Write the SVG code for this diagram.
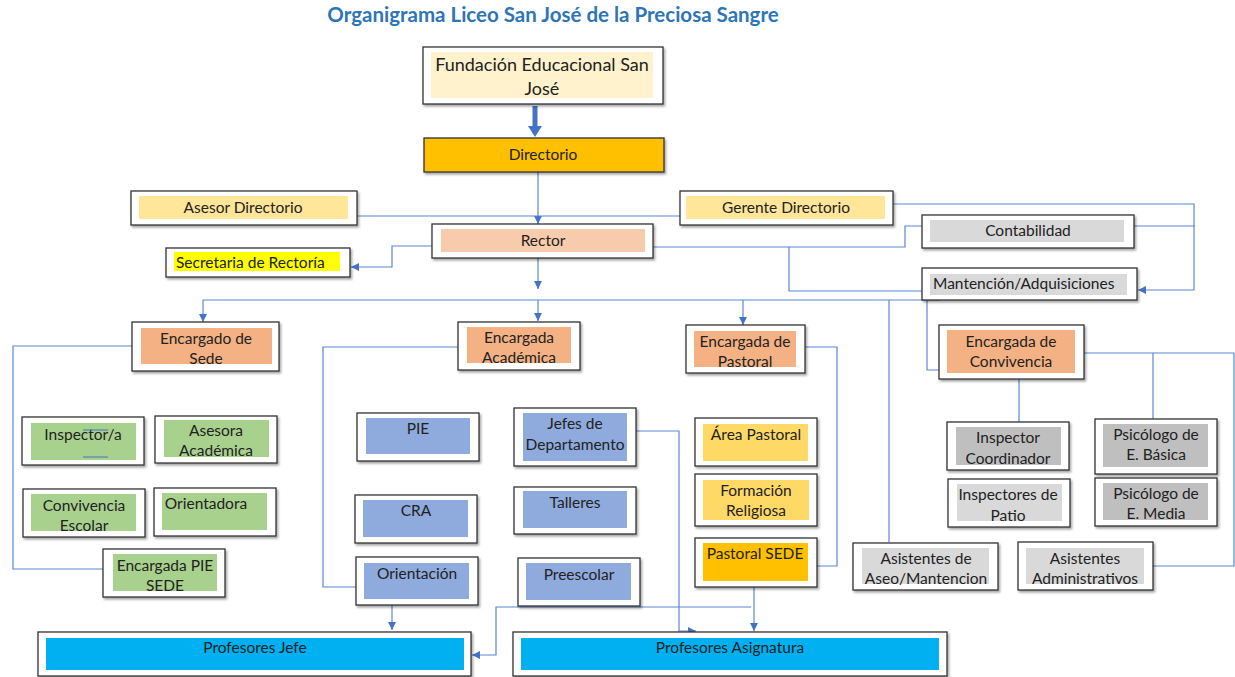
<svg xmlns="http://www.w3.org/2000/svg" width="1235" height="677" viewBox="0 0 1235 677">
<defs>
<filter id="sh" x="-10%" y="-10%" width="130%" height="140%"><feDropShadow dx="1.5" dy="2" stdDeviation="1.2" flood-color="#000" flood-opacity="0.35"/></filter>
<marker id="ah" viewBox="0 0 10 10" refX="10" refY="5" markerWidth="8" markerHeight="8" markerUnits="userSpaceOnUse" orient="auto"><path d="M0,0 L10,5 L0,10 z" fill="#4472C4"/></marker>
<style>
.ob{fill:#fff;stroke:#333;stroke-width:1.3;filter:url(#sh)}
.t{font-family:Lato,"Liberation Sans",sans-serif;font-size:15.5px;fill:#222;text-anchor:middle}
.c{fill:none;stroke:#5B86D6;stroke-width:1.2}
.ca{fill:none;stroke:#5B86D6;stroke-width:1.2;marker-end:url(#ah)}
.green{fill:#A9D18E}.blue{fill:#8FAADC}.org{fill:#F4B183}.gray{fill:#D9D9D9}.dgray{fill:#BFBFBF}.ylw{fill:#FFD966}.cyan{fill:#00B0F0}
</style>
</defs>
<rect width="1235" height="677" fill="#fff"/>
<text x="553" y="22" font-family="Lato,'Liberation Sans',sans-serif" font-size="20.5" font-weight="bold" fill="#2E75B6" text-anchor="middle">Organigrama Liceo San José de la Preciosa Sangre</text>

<g id="connectors">
<path d="M535,106 V127" stroke="#4472C4" stroke-width="5" fill="none"/>
<path d="M528,126 L542,126 L535,137 z" fill="#4472C4"/>
<path class="ca" d="M538,172 V224"/>
<path class="c" d="M357,216 H681"/>
<path class="ca" d="M432,246 H392 V267 H351"/>
<path class="ca" d="M538,258 V289"/>
<path class="c" d="M203,300 H940"/>
<path class="ca" d="M203,300 V322"/>
<path class="ca" d="M538,300 V321"/>
<path class="ca" d="M743,300 V325"/>
<path class="c" d="M653,247 H905 V226 H922"/>
<path class="c" d="M789,247 V291 H922"/>
<path class="ca" d="M893,204 H1194 V290 H1138"/>
<path class="c" d="M1134,226 H1195"/>
<path class="c" d="M889,300 V542"/>
<path class="c" d="M927,300 V370 H939"/>
<path class="c" d="M1019,379 V422"/>
<path class="c" d="M1084,353 H1234 V566 H1153"/>
<path class="c" d="M1153,353 V419"/>
<path class="c" d="M132,346 H13 V569 H103"/>
<path class="c" d="M458,347 H323 V587 H356"/>
<path class="c" d="M805,347 H837 V566 H817"/>
<path class="ca" d="M636,431 H679 V631 H696"/>
<path class="ca" d="M754,587 V631"/>
<path class="ca" d="M751,607 H496 V655 H472"/>
<path class="ca" d="M392,605 V630"/>
</g>

<g id="fundacion"><rect class="ob" x="423" y="47" width="240" height="57"/><rect x="431" y="52" width="222" height="46" fill="#FFF2CC"/><text class="t" style="font-size:18px" x="542" y="71">Fundación Educacional San</text><text class="t" style="font-size:18px" x="542" y="95">José</text></g>

<g id="directorio"><rect x="424" y="138" width="240" height="34" fill="#FFC000" stroke="#333" stroke-width="1.3" filter="url(#sh)"/><text class="t" x="543" y="160">Directorio</text></g>

<g id="asesor"><rect class="ob" x="131" y="191" width="226" height="34"/><rect x="139" y="196" width="209" height="23" fill="#FFE699"/><text class="t" x="243" y="213">Asesor Directorio</text></g>

<g id="gerente"><rect class="ob" x="680" y="191" width="213" height="34"/><rect x="686" y="196" width="199" height="23" fill="#FFE699"/><text class="t" x="786" y="213">Gerente Directorio</text></g>

<g id="rector"><rect class="ob" x="432" y="224" width="221" height="34"/><rect x="441" y="229" width="204" height="23" fill="#F8CBAD"/><text class="t" x="543" y="246">Rector</text></g>

<g id="secretaria"><rect class="ob" x="166" y="248" width="184" height="29"/><rect x="174" y="252" width="166" height="19" fill="#FFFF00"/><text class="t" x="176" y="268" style="text-anchor:start">Secretaria de Rectoría</text></g>

<g id="contabilidad"><rect class="ob" x="922" y="215" width="212" height="33"/><rect x="930" y="220" width="194" height="22" fill="#D9D9D9"/><text class="t" x="1028" y="236">Contabilidad</text></g>

<g id="mantencion"><rect class="ob" x="922" y="268" width="215" height="32"/><rect x="930" y="274" width="197" height="21" class="gray"/><text class="t" x="933" y="289" style="text-anchor:start">Mantención/Adquisiciones</text></g>

<g id="enc-sede"><rect class="ob" x="132" y="322" width="147" height="49"/><rect x="141" y="328" width="131" height="36" class="org"/><text class="t" x="206" y="344">Encargado de</text><text class="t" x="206" y="364">Sede</text></g>

<g id="inspector-a"><rect class="ob" x="22" y="417" width="122" height="48"/><rect x="31" y="423" width="105" height="37" class="green"/><text class="t" x="83" y="440">Inspector/a</text><path d="M83,430 H108 M83,457 H108" stroke="#4472C4" stroke-width="1"/></g>

<g id="asesora"><rect class="ob" x="155" y="416" width="122" height="47"/><rect x="164" y="420" width="105" height="37" class="green"/><text class="t" x="216" y="436">Asesora</text><text class="t" x="216" y="456">Académica</text></g>

<g id="convivencia-escolar"><rect class="ob" x="23" y="489" width="122" height="48"/><rect x="31" y="494" width="105" height="37" class="green"/><text class="t" x="84" y="511">Convivencia</text><text class="t" x="84" y="531">Escolar</text></g>

<g id="orientadora"><rect class="ob" x="154" y="488" width="122" height="48"/><rect x="162" y="493" width="105" height="37" class="green"/><text class="t" x="206" y="509">Orientadora</text></g>

<g id="pie-sede"><rect class="ob" x="103" y="549" width="122" height="48"/><rect x="113" y="554" width="104" height="37" class="green"/><text class="t" x="165" y="571">Encargada PIE</text><text class="t" x="165" y="591">SEDE</text></g>

<g id="enc-academica"><rect class="ob" x="458" y="322" width="122" height="48"/><rect x="467" y="327" width="104" height="36" class="org"/><text class="t" x="519" y="343">Encargada</text><text class="t" x="519" y="363">Académica</text></g>

<g id="pie"><rect class="ob" x="357" y="413" width="122" height="48"/><rect x="366" y="418" width="104" height="36" class="blue"/><text class="t" x="418" y="434">PIE</text></g>

<g id="cra"><rect class="ob" x="355" y="495" width="122" height="48"/><rect x="363" y="500" width="105" height="37" class="blue"/><text class="t" x="416" y="516">CRA</text></g>

<g id="orientacion"><rect class="ob" x="356" y="557" width="122" height="48"/><rect x="364" y="563" width="105" height="36" class="blue"/><text class="t" x="417" y="579">Orientación</text></g>

<g id="jefes"><rect class="ob" x="514" y="408" width="122" height="58"/><rect x="523" y="413" width="104" height="48" class="blue"/><text class="t" x="575" y="429">Jefes de</text><text class="t" x="575" y="450">Departamento</text></g>

<g id="talleres"><rect class="ob" x="514" y="487" width="122" height="47"/><rect x="523" y="491" width="104" height="37" class="blue"/><text class="t" x="575" y="508">Talleres</text></g>

<g id="preescolar"><rect class="ob" x="518" y="558" width="122" height="48"/><rect x="526" y="563" width="105" height="37" class="blue"/><text class="t" x="579" y="580">Preescolar</text></g>

<g id="enc-pastoral"><rect class="ob" x="686" y="325" width="119" height="48"/><rect x="694" y="331" width="102" height="36" class="org"/><text class="t" x="745" y="347">Encargada de</text><text class="t" x="745" y="367">Pastoral</text></g>

<g id="area-pastoral"><rect class="ob" x="695" y="418" width="122" height="48"/><rect x="703" y="424" width="105" height="37" class="ylw"/><text class="t" x="756" y="440">Área Pastoral</text></g>

<g id="formacion"><rect class="ob" x="695" y="474" width="122" height="52"/><rect x="703" y="480" width="106" height="40" class="ylw"/><text class="t" x="756" y="496">Formación</text><text class="t" x="756" y="516">Religiosa</text></g>

<g id="pastoral-sede"><rect class="ob" x="695" y="538" width="122" height="49"/><rect x="703" y="543" width="105" height="38" fill="#FFC000"/><text class="t" x="755" y="559">Pastoral SEDE</text></g>

<g id="enc-convivencia"><rect class="ob" x="939" y="325" width="145" height="54"/><rect x="947" y="330" width="128" height="43" class="org"/><text class="t" x="1011" y="347">Encargada de</text><text class="t" x="1011" y="367">Convivencia</text></g>

<g id="insp-coord"><rect class="ob" x="947" y="422" width="122" height="48"/><rect x="956" y="427" width="105" height="38" class="dgray"/><text class="t" x="1008" y="443">Inspector</text><text class="t" x="1008" y="464">Coordinador</text></g>

<g id="insp-patio"><rect class="ob" x="948" y="479" width="122" height="48"/><rect x="957" y="484" width="105" height="37" class="gray"/><text class="t" x="1008" y="500">Inspectores de</text><text class="t" x="1008" y="521">Patio</text></g>

<g id="psi-basica"><rect class="ob" x="1095" y="419" width="122" height="55"/><rect x="1103" y="424" width="105" height="43" class="dgray"/><text class="t" x="1156" y="440">Psicólogo de</text><text class="t" x="1156" y="460">E. Básica</text></g>

<g id="psi-media"><rect class="ob" x="1095" y="478" width="122" height="48"/><rect x="1103" y="483" width="105" height="37" class="dgray"/><text class="t" x="1156" y="499">Psicólogo de</text><text class="t" x="1156" y="519">E. Media</text></g>

<g id="aseo"><rect class="ob" x="853" y="543" width="145" height="47"/><rect x="862" y="548" width="127" height="36" class="gray"/><text class="t" x="926" y="564">Asistentes de</text><text class="t" x="926" y="584">Aseo/Mantencion</text></g>

<g id="administrativos"><rect class="ob" x="1018" y="542" width="135" height="48"/><rect x="1026" y="548" width="118" height="36" class="gray"/><text class="t" x="1085" y="564">Asistentes</text><text class="t" x="1085" y="584">Administrativos</text></g>

<g id="prof-jefe"><rect class="ob" x="38" y="632" width="433" height="44"/><rect x="46" y="638" width="418" height="32" class="cyan"/><text class="t" x="255" y="653">Profesores Jefe</text></g>

<g id="prof-asignatura"><rect class="ob" x="513" y="632" width="434" height="44"/><rect x="521" y="638" width="418" height="32" class="cyan"/><text class="t" x="730" y="653">Profesores Asignatura</text></g>
</svg>
